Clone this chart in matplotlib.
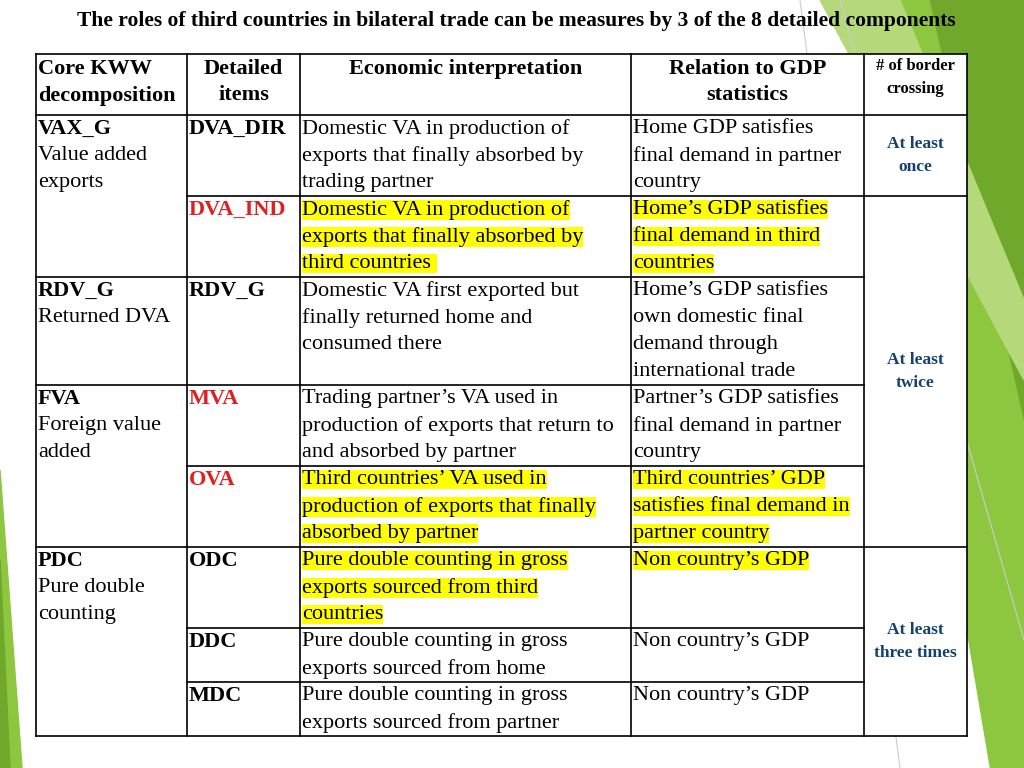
import matplotlib.pyplot as plt
from matplotlib.patches import Polygon, Rectangle

plt.rcParams['font.family'] = ['Liberation Serif', 'DejaVu Serif']

title = "The roles of third countries in bilateral trade can be measures by 3 of the 8 detailed components"

headers = ["Core KWW\ndecomposition", "Detailed\nitems", "Economic interpretation",
           "Relation to GDP\nstatistics", "# of border\ncrossing"]

# rows: (core, item, item colour, interpretation, relation, highlighted)
core_groups = [("VAX_G", "Value added\nexports", 0, 2),
               ("RDV_G", "Returned DVA", 2, 3),
               ("FVA", "Foreign value\nadded", 3, 5),
               ("PDC", "Pure double\ncounting", 5, 8)]
items = ["DVA_DIR", "DVA_IND", "RDV_G", "MVA", "OVA", "ODC", "DDC", "MDC"]
item_red = [False, True, False, True, True, False, False, False]
interp = ["Domestic VA in production of\nexports that finally absorbed by\ntrading partner",
          "Domestic VA in production of\nexports that finally absorbed by\nthird countries ",
          "Domestic VA first exported but\nfinally returned home and\nconsumed there",
          "Trading partner\u2019s VA used in\nproduction of exports that return to\nand absorbed by partner",
          "Third countries\u2019 VA used in\nproduction of exports that finally\nabsorbed by partner",
          "Pure double counting in gross\nexports sourced from third\ncountries",
          "Pure double counting in gross\nexports sourced from home",
          "Pure double counting in gross\nexports sourced from partner"]
relation = ["Home GDP satisfies\nfinal demand in partner\ncountry",
            "Home\u2019s GDP satisfies\nfinal demand in third\ncountries",
            "Home\u2019s GDP satisfies\nown domestic final\ndemand through\ninternational trade",
            "Partner\u2019s GDP satisfies\nfinal demand in partner\ncountry",
            "Third countries\u2019 GDP\nsatisfies final demand in\npartner country",
            "Non country\u2019s GDP", "Non country\u2019s GDP", "Non country\u2019s GDP"]
highlight_interp = [False, True, False, False, True, True, False, False]
highlight_rel = [False, True, False, False, True, True, False, False]
crossing = [("At least\nonce", 0, 1), ("At least\ntwice", 1, 5), ("At least\nthree times", 5, 8)]

col_x = [36, 187, 300, 631, 864, 967]
row_y = [54, 115, 196, 277, 385, 466, 547, 628, 682, 736]

fig = plt.figure(figsize=(10.24, 7.68), dpi=100)
ax = fig.add_axes([0, 0, 1, 1])
ax.set_xlim(0, 1024)
ax.set_ylim(768, 0)
ax.axis('off')

# green decoration
greens = [([(860, 0), (1024, 0), (1024, 768), (990, 768)], '#8dc63f'),
          ([(930, 0), (1024, 0), (1024, 420)], '#6fa82a'),
          ([(820, 0), (900, 0), (1024, 300), (1024, 380)], '#b5d97a'),
          ([(0, 470), (22, 768), (0, 768)], '#8dc63f'),
          ([(0, 560), (10, 768), (0, 768)], '#6fa82a')]
for pts, c in greens:
    ax.add_patch(Polygon(pts, closed=True, color=c, zorder=0))
ax.plot([800, 900], [0, 768], color='#cccccc', lw=0.8, zorder=0.5)
ax.plot([840, 1024], [0, 640], color='#cccccc', lw=0.8, zorder=0.5)

ax.add_patch(Rectangle((col_x[0], row_y[0]), col_x[-1] - col_x[0], row_y[-1] - row_y[0],
                       facecolor='white', edgecolor='none', zorder=1))

ax.text(516, 21, title, ha='center', va='center', fontsize=15.5, fontweight='bold', zorder=3)

fs = 16
lh = 27


def cell_text(x, y, s, color='black', bold=False, hl=False):
    for i, line in enumerate(s.split('\n')):
        ax.text(x, y + i * lh, line, ha='left', va='top', fontsize=fs, color=color,
                fontweight='bold' if bold else 'normal', zorder=3,
                bbox=dict(facecolor='yellow', edgecolor='none', pad=0) if hl else None)


# header
for j, h in enumerate(headers):
    if j == 0:
        cell_text(col_x[0] + 2, row_y[0] + 5, h, bold=True)
    elif j == 4:
        ax.text((col_x[4] + col_x[5]) / 2, row_y[0] + 4, h, ha='center', va='top', fontsize=12,
                fontweight='bold', linespacing=1.6, zorder=3)
    else:
        ax.text((col_x[j] + col_x[j + 1]) / 2, row_y[0] + 5, h, ha='center', va='top', fontsize=fs,
                fontweight='bold', linespacing=1.4, zorder=3)

for name, desc, r0, r1 in core_groups:
    cell_text(col_x[0] + 2, row_y[r0 + 1] + 4, name, bold=True)
    cell_text(col_x[0] + 2, row_y[r0 + 1] + 4 + lh, desc)

for i in range(8):
    y = row_y[i + 1] + 4
    cell_text(col_x[1] + 2, y, items[i], color='#e02020' if item_red[i] else 'black', bold=True)
    cell_text(col_x[2] + 2, y, interp[i], hl=highlight_interp[i])
    cell_text(col_x[3] + 2, y, relation[i], hl=highlight_rel[i])

for s, r0, r1 in crossing:
    ax.text((col_x[4] + col_x[5]) / 2, (row_y[r0 + 1] + row_y[r1 + 1]) / 2, s, ha='center',
            va='center', fontsize=12.5, fontweight='bold', color='#16406e', linespacing=1.6, zorder=3)

# grid lines
lw = 1.2
kw = dict(color='black', lw=lw, zorder=4)
ax.plot([col_x[0], col_x[-1]], [row_y[0]] * 2, **kw)
ax.plot([col_x[0], col_x[-1]], [row_y[1]] * 2, **kw)
ax.plot([col_x[0], col_x[-1]], [row_y[-1]] * 2, **kw)
for x in col_x:
    ax.plot([x, x], [row_y[0], row_y[-1]], **kw)
group_starts = [g[2] for g in core_groups]
cross_starts = [c[1] for c in crossing]
for r in range(1, 8):
    y = row_y[r + 1]
    x0 = col_x[0] if r in group_starts else col_x[1]
    x1 = col_x[5] if r in cross_starts else col_x[4]
    ax.plot([x0, x1], [y, y], **kw)

fig.savefig('out.png', dpi=100)
